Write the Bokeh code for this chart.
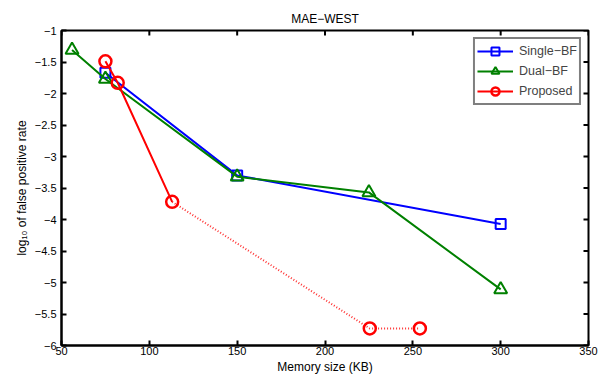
from bokeh.plotting import figure
from bokeh.models import Range1d, FixedTicker, Legend, LegendItem, Title
from bokeh.embed import file_html
from bokeh.resources import INLINE

# data
single_x = [75, 150, 300]
single_y = [-1.67, -3.30, -4.07]
dual_x = [56, 75, 150, 225, 300]
dual_y = [-1.31, -1.77, -3.32, -3.57, -5.11]
prop_solid_x = [75, 82, 113]
prop_solid_y = [-1.49, -1.83, -3.72]
prop_dot_x = [113, 225.5, 254]
prop_dot_y = [-3.72, -5.73, -5.73]
x_ticks = [50, 100, 150, 200, 250, 300, 350]
y_ticks = [-6, -5.5, -5, -4.5, -4, -3.5, -3, -2.5, -2, -1.5, -1]

FONT = "Liberation Sans"
W, H = 598, 374
L, R, T, B = 61, 10, 30, 29
xr = (50, 350)
yr = (-6, -1)
sx = (W - L - R) / (xr[1] - xr[0])
sy = (H - T - B) / (yr[1] - yr[0])
TICK = 5

p = figure(width=W, height=H, output_backend="svg", toolbar_location=None,
           x_range=Range1d(*xr), y_range=Range1d(*yr),
           min_border_left=L, min_border_right=R, min_border_top=T, min_border_bottom=B)
p.grid.visible = False
p.outline_line_color = "black"
p.outline_line_width = 2
p.background_fill_color = "white"
p.border_fill_color = "white"

def fmt(v):
    return ("%g" % v).replace("-", "\u2212")

for ax in (p.xaxis[0], p.yaxis[0]):
    ax.axis_line_width = 2
    ax.major_tick_line_width = 2
    ax.major_tick_in = TICK
    ax.major_tick_out = 0
    ax.minor_tick_line_color = None
    ax.major_label_text_font = FONT
    ax.major_label_text_font_size = "11px"
    ax.major_label_text_color = "black"
p.xaxis[0].ticker = FixedTicker(ticks=x_ticks)
p.xaxis[0].major_label_overrides = {t: fmt(t) for t in x_ticks}
p.xaxis[0].major_label_standoff = 1
p.yaxis[0].ticker = FixedTicker(ticks=y_ticks)
p.yaxis[0].major_label_overrides = {t: fmt(t) for t in y_ticks}
p.yaxis[0].major_label_standoff = 5

# inward ticks on top and right edges (mirroring the axis ticks)
p.segment(x0=x_ticks, y0=[yr[1]] * len(x_ticks), x1=x_ticks,
          y1=[yr[1] - TICK / sy] * len(x_ticks), line_color="black", line_width=2)
p.segment(x0=[xr[1]] * len(y_ticks), y0=y_ticks, x1=[xr[1] - TICK / sx] * len(y_ticks),
          y1=y_ticks, line_color="black", line_width=2)

# series
s_line = p.line(single_x, single_y, line_color="#0000ff", line_width=2)
s_mark = p.scatter(single_x, single_y, marker="square", size=10, line_color="#0000ff",
                   fill_color=None, line_width=2)
d_line = p.line(dual_x, dual_y, line_color="#008000", line_width=2)
d_mark = p.scatter(dual_x, dual_y, marker="triangle", size=13, line_color="#008000",
                   fill_color=None, line_width=2)
p.line(prop_dot_x, prop_dot_y, line_color="#ff0000", line_width=2, line_dash="1 2", line_alpha=0.8)
pr_line = p.line(prop_solid_x, prop_solid_y, line_color="#ff0000", line_width=2)
pr_mark = p.scatter(prop_solid_x + prop_dot_x[1:], prop_solid_y + prop_dot_y[1:], marker="circle",
                    size=12, line_color="#ff0000", fill_color=None, line_width=2.5)

legend = Legend(items=[
    LegendItem(label="Single\u2212BF", renderers=[s_line, s_mark]),
    LegendItem(label="Dual\u2212BF", renderers=[d_line, d_mark]),
    LegendItem(label="Proposed", renderers=[pr_line, pr_mark]),
], location="top_right")
legend.margin = 7
legend.padding = 2
legend.spacing = -4
legend.label_text_font = FONT
legend.label_text_font_size = "12.5px"
legend.label_height = 16
legend.glyph_height = 20
legend.glyph_width = 36
legend.label_standoff = 6
legend.border_line_color = "black"
legend.border_line_width = 2
legend.background_fill_color = "white"
p.add_layout(legend)

# titles
p.add_layout(Title(text="MAE\u2212WEST", align="center", text_font=FONT, text_font_size="12px",
                   text_font_style="normal", text_color="black", standoff=9), "above")
p.add_layout(Title(text="Memory size (KB)", align="center", text_font=FONT, text_font_size="12px",
                   text_font_style="normal", text_color="black", standoff=0), "below")
p.add_layout(Title(text="log\u2081\u2080 of false positive rate", align="center", text_font=FONT,
                   text_font_size="12px", text_font_style="normal", text_color="black", standoff=5), "left")

open("out.html", "w").write(file_html(p, INLINE))
